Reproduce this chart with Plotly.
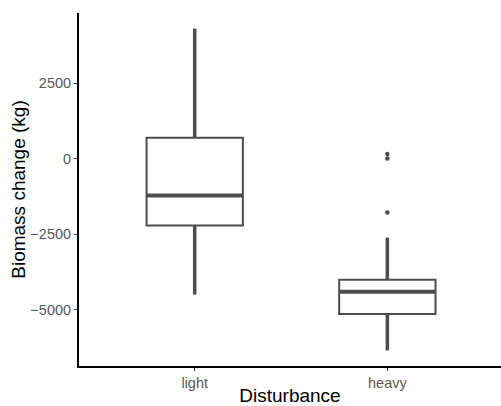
import plotly.graph_objects as go

categories = ["light", "heavy"]
xpos = [0, 1]
lower_whisker = [-4500, -6350]
q1 = [-2220, -5150]
median = [-1220, -4410]
q3 = [690, -4010]
upper_whisker = [4300, -2620]
outlier_x = [1, 1, 1]
outlier_y = [150, 0, -1790]
yticks = [-5000, -2500, 0, 2500]

box_w = 0.5
line_col = "#4d4d4d"

fig = go.Figure()
# whiskers (drawn thicker, as in ggplot rendering)
for xi, lo, a, b, hi in zip(xpos, lower_whisker, q1, q3, upper_whisker):
    fig.add_trace(go.Scatter(x=[xi, xi, None, xi, xi], y=[lo, a, None, b, hi], mode="lines",
                             line=dict(color=line_col, width=3.5), showlegend=False,
                             hoverinfo="skip"))
fig.add_trace(go.Box(
    x=xpos, q1=q1, median=median, q3=q3,
    lowerfence=lower_whisker, upperfence=upper_whisker,
    width=box_w, whiskerwidth=0, fillcolor="white",
    line=dict(color=line_col, width=2), boxpoints=False,
    showlegend=False, hoverinfo="skip"))
for xi, m in zip(xpos, median):
    fig.add_trace(go.Scatter(
        x=[xi - box_w / 2, xi + box_w / 2], y=[m, m], mode="lines",
        line=dict(color=line_col, width=4), showlegend=False, hoverinfo="skip"))
fig.add_trace(go.Scatter(
    x=outlier_x, y=outlier_y, mode="markers",
    marker=dict(color=line_col, size=4.5), showlegend=False, hoverinfo="skip"))

axis_common = dict(showline=True, linecolor="black", linewidth=2, ticks="outside",
                   ticklen=3, tickcolor="#333333", tickwidth=1, showgrid=False,
                   zeroline=False, tickfont=dict(size=14.5, color="#595959"))

fig.update_layout(
    width=501, height=406,
    margin=dict(l=79, r=0, t=13, b=37),
    paper_bgcolor="white", plot_bgcolor="white",
    font=dict(family="Liberation Sans, Arial, sans-serif"),
    xaxis=dict(range=[-0.6007, 1.590], tickvals=xpos, ticktext=categories,
               title=dict(text="Disturbance", font=dict(size=19, color="black"), standoff=1),
               **axis_common),
    yaxis=dict(range=[-6870, 4820], tickvals=yticks,
               ticktext=[str(v).replace("-", "\u2212") for v in yticks],
               title=dict(text="Biomass change (kg)", font=dict(size=19, color="black"), standoff=0),
               **axis_common),
)
fig.write_html("out.html")
